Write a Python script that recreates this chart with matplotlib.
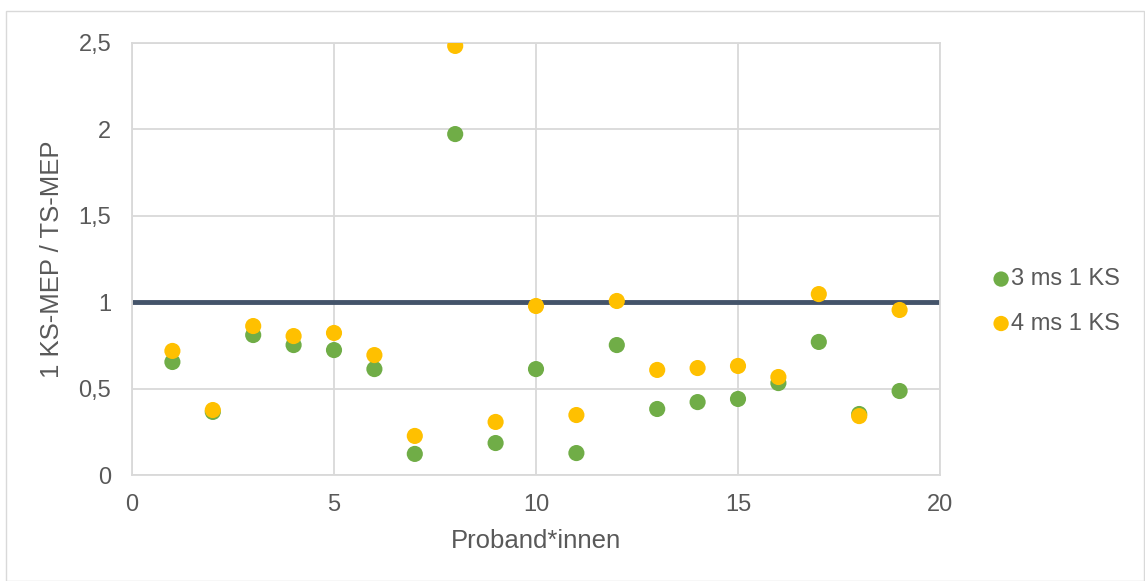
import matplotlib
matplotlib.use("Agg")
import matplotlib.pyplot as plt
from matplotlib.patches import Rectangle

plt.rcParams['font.family'] = ['Liberation Sans', 'DejaVu Sans']

proband = list(range(1, 20))
ms3_1ks = [0.654, 0.365, 0.81, 0.752, 0.723, 0.613, 0.122, 1.973, 0.185, 0.613,
           0.127, 0.752, 0.382, 0.422, 0.44, 0.532, 0.77, 0.353, 0.486]
ms4_1ks = [0.718, 0.376, 0.862, 0.804, 0.822, 0.694, 0.226, 2.483, 0.307, 0.978,
           0.347, 1.007, 0.608, 0.619, 0.631, 0.567, 1.047, 0.341, 0.955]
reference_level = 1.0

series_names = ["3 ms 1 KS", "4 ms 1 KS"]
x_ticks = [0, 5, 10, 15, 20]
y_ticks = [0, 0.5, 1, 1.5, 2, 2.5]
y_tick_labels = ["0", "0,5", "1", "1,5", "2", "2,5"]

text_col = "#595959"
grid_col = "#D9D9D9"

fig = plt.figure(figsize=(11.45, 5.81), dpi=100)
fig.patches.append(Rectangle((6 / 1145, 0), 1 - 6 / 1145 - 1 / 1145, 1 - 11 / 581,
                             transform=fig.transFigure, fill=False,
                             edgecolor=grid_col, linewidth=1.0))
ax = fig.add_axes([132 / 1145, 106 / 581, 808 / 1145, 432 / 581])

ax.set_xlim(0, 20)
ax.set_ylim(0, 2.5)
ax.set_xticks(x_ticks)
ax.set_yticks(y_ticks)
ax.set_yticklabels(y_tick_labels)
ax.grid(True, color=grid_col, linewidth=1.3, zorder=0)
ax.set_axisbelow(True)
for side, sp in ax.spines.items():
    sp.set_color(grid_col)
    sp.set_linewidth(1.3)
ax.tick_params(length=0, labelsize=17, colors=text_col)
ax.tick_params(axis="x", pad=14)
ax.tick_params(axis="y", pad=15)

ax.plot([0, 20], [reference_level, reference_level], color="#44546A",
        linewidth=3.5, solid_capstyle="butt", zorder=2)

ax.scatter(proband, ms3_1ks, s=135, color="#70AD47", edgecolors="none",
           label=series_names[0], zorder=3)
ax.scatter(proband, ms4_1ks, s=135, color="#FFC000", edgecolors="none",
           label=series_names[1], zorder=4)

ax.set_xlabel("Proband*innen", fontsize=18.5, color=text_col)
ax.set_ylabel("1 KS-MEP / TS-MEP", fontsize=18.5, color=text_col)
ax.xaxis.set_label_coords(0.5, -(529 - 475) / 432, transform=ax.transAxes)
ax.yaxis.set_label_coords(-(132 - 64) / 808, 0.5, transform=ax.transAxes)

leg = ax.legend(loc="center left", bbox_to_anchor=(1.061, (475 - 301.5) / 432),
                frameon=False, fontsize=17, handletextpad=-0.1,
                handlelength=1.0, markerscale=0.95, labelspacing=0.95,
                borderpad=0, borderaxespad=0)
for t in leg.get_texts():
    t.set_color(text_col)

fig.savefig("out.png", dpi=100)
